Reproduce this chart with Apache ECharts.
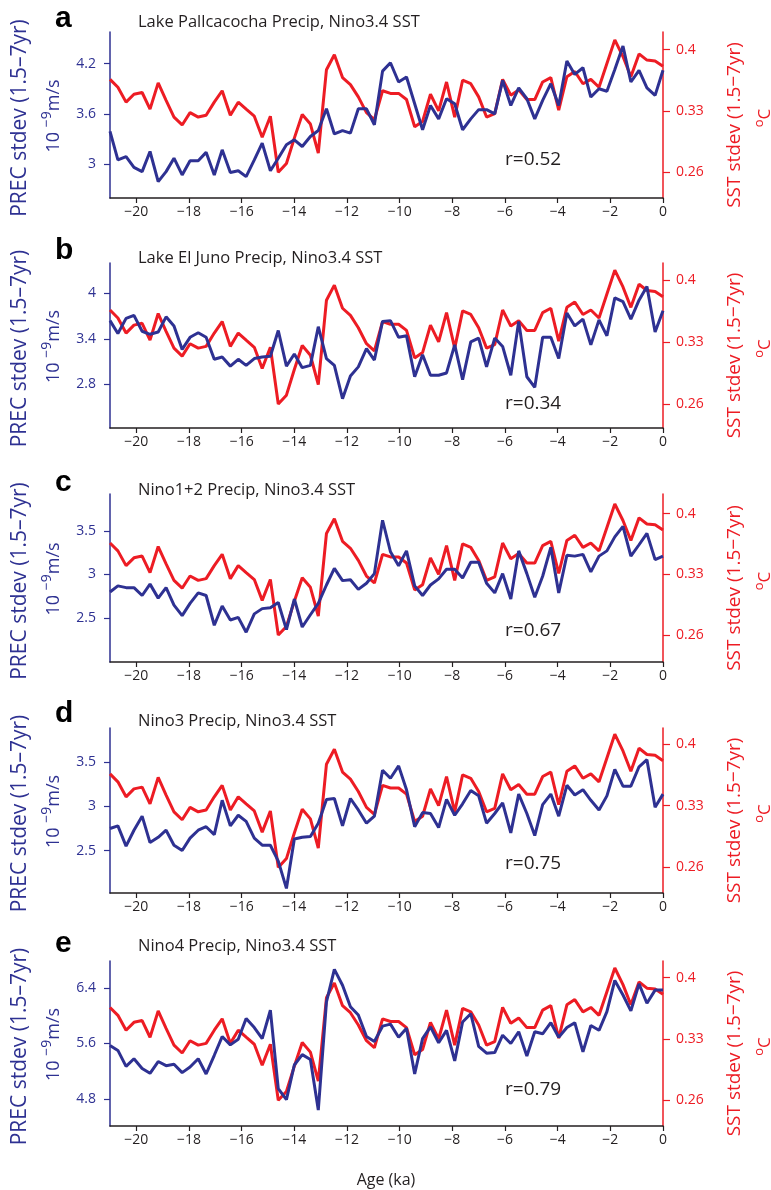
<!DOCTYPE html>
<html><head><meta charset="utf-8">
<script src="https://cdn.jsdelivr.net/npm/echarts@6/dist/echarts.min.js"></script>
<style>html,body{margin:0;padding:0;background:#fff}#c{width:771px;height:1190px}</style>
</head><body><div id="c"></div>
<script>
// ---------- data ----------
const ages = [-21.00,-20.70,-20.39,-20.09,-19.78,-19.48,-19.17,-18.87,-18.57,-18.26,
  -17.96,-17.65,-17.35,-17.04,-16.74,-16.43,-16.13,-15.83,-15.52,-15.22,
  -14.91,-14.61,-14.30,-14.00,-13.70,-13.39,-13.09,-12.78,-12.48,-12.17,
  -11.87,-11.57,-11.26,-10.96,-10.65,-10.35,-10.04,-9.74,-9.43,-9.13,
  -8.83,-8.52,-8.22,-7.91,-7.61,-7.30,-7.00,-6.70,-6.39,-6.09,
  -5.78,-5.48,-5.17,-4.87,-4.57,-4.26,-3.96,-3.65,-3.35,-3.04,
  -2.74,-2.43,-2.13,-1.83,-1.52,-1.22,-0.91,-0.61,-0.30,0.00];

const sstNino34 = [0.366,0.357,0.340,0.349,0.351,0.332,0.362,0.342,0.323,0.314,
  0.328,0.323,0.325,0.340,0.353,0.325,0.340,0.332,0.324,0.300,
  0.324,0.260,0.270,0.299,0.326,0.315,0.282,0.377,0.394,0.368,
  0.360,0.346,0.328,0.320,0.353,0.350,0.350,0.343,0.312,0.318,
  0.349,0.330,0.363,0.323,0.365,0.361,0.346,0.323,0.327,0.366,
  0.348,0.354,0.343,0.343,0.363,0.368,0.331,0.369,0.375,0.361,
  0.366,0.357,0.384,0.411,0.392,0.369,0.395,0.388,0.387,0.381];

const precPallcacocha = [3.39,3.05,3.09,2.96,2.91,3.15,2.79,2.91,3.07,2.87,
  3.04,3.04,3.14,2.87,3.17,2.90,2.92,2.85,3.05,3.25,
  2.92,3.07,3.23,3.29,3.21,3.33,3.40,3.66,3.36,3.40,
  3.37,3.66,3.66,3.47,4.11,4.21,3.98,4.04,3.72,3.41,
  3.70,3.54,3.78,3.72,3.41,3.54,3.65,3.65,3.60,4.00,
  3.70,3.91,3.78,3.54,3.76,3.96,3.70,4.23,4.07,4.15,
  3.80,3.90,3.87,4.13,4.41,3.98,4.12,3.91,3.82,4.12];

const precElJuno = [3.64,3.47,3.67,3.71,3.50,3.46,3.49,3.69,3.57,3.26,
  3.42,3.48,3.42,3.13,3.16,3.04,3.13,3.05,3.14,3.16,
  3.17,3.51,3.04,3.20,3.02,3.05,3.56,3.14,3.05,2.61,
  2.91,3.03,3.27,3.12,3.63,3.64,3.42,3.44,2.90,3.19,
  2.92,2.92,2.95,3.32,2.86,3.36,3.41,3.03,3.41,3.30,
  2.92,3.63,2.90,2.76,3.42,3.42,3.14,3.74,3.57,3.66,
  3.32,3.65,3.44,3.94,3.89,3.66,3.91,4.09,3.49,3.77];

const precNino12 = [2.80,2.87,2.85,2.85,2.76,2.89,2.73,2.85,2.65,2.53,
  2.67,2.79,2.76,2.42,2.64,2.48,2.51,2.34,2.55,2.61,
  2.62,2.68,2.37,2.72,2.40,2.54,2.67,2.88,3.07,2.93,
  2.94,2.83,2.90,3.01,3.62,3.26,3.10,3.27,2.87,2.76,
  2.88,2.95,3.06,3.06,2.96,3.14,3.14,2.90,2.79,3.01,
  2.72,3.27,3.01,2.74,2.98,3.31,2.79,3.22,3.21,3.23,
  3.03,3.21,3.27,3.43,3.55,3.21,3.34,3.47,3.17,3.21];

const precNino3 = [2.75,2.78,2.55,2.73,2.89,2.59,2.65,2.73,2.56,2.50,
  2.64,2.73,2.77,2.68,3.07,2.78,2.90,2.83,2.64,2.56,
  2.56,2.38,2.07,2.63,2.65,2.66,2.81,3.08,3.09,2.78,
  3.09,2.96,2.81,2.89,3.41,3.32,3.46,3.19,2.77,2.93,
  2.92,2.76,3.08,2.90,3.03,3.18,3.12,2.81,2.92,3.04,
  2.70,3.14,2.92,2.67,3.02,3.14,2.89,3.24,3.13,3.19,
  3.07,2.96,3.12,3.42,3.23,3.23,3.45,3.53,2.99,3.14];

const precNino4 = [5.57,5.50,5.27,5.38,5.24,5.17,5.34,5.28,5.30,5.18,
  5.26,5.38,5.16,5.43,5.70,5.58,5.66,5.96,5.83,5.67,
  6.08,4.95,4.79,5.29,5.44,5.37,4.64,6.20,6.67,6.44,
  6.13,6.01,5.70,5.63,5.85,5.88,5.69,5.82,5.16,5.67,
  5.84,5.61,5.79,5.35,5.91,6.03,5.56,5.46,5.47,5.72,
  5.60,5.77,5.42,5.77,5.74,5.90,5.69,5.83,5.90,5.48,
  5.86,5.79,6.06,6.51,6.30,6.07,6.46,6.18,6.37,6.37];

const precSeries = [precPallcacocha, precElJuno, precNino12, precNino3, precNino4];
const panelLetters = ['a','b','c','d','e'];
const panelTitles = ['Lake Pallcacocha Precip, Nino3.4 SST','Lake El Juno Precip, Nino3.4 SST',
  'Nino1+2 Precip, Nino3.4 SST','Nino3 Precip, Nino3.4 SST','Nino4 Precip, Nino3.4 SST'];
const corrLabels = ['r=0.52','r=0.34','r=0.67','r=0.75','r=0.79'];
const precTicks = [[3,3.6,4.2],[2.8,3.4,4],[2.5,3,3.5],[2.5,3,3.5],[4.8,5.6,6.4]];
const sstTicks = [0.26,0.33,0.4];
const ageTicks = [-20,-18,-16,-14,-12,-10,-8,-6,-4,-2,0];

// ---------- layout ----------
const BLUE = '#2e3192', RED = '#ed1c24', INK = '#231f20';
const FONT = '"Open Sans", "Noto Sans", sans-serif';
const L = 110, W = 553;
const panels = [
  {top:32,  bot:198,  lmin:2.595, lmax:4.577, rmin:0.2307, rmax:0.420, titleY:22,  letterY:21,  rY:160},
  {top:263, bot:428,  lmin:2.224, lmax:4.400, rmin:0.2330, rmax:0.419, titleY:258, letterY:253, rY:404},
  {top:494, bot:662,  lmin:2.000, lmax:3.920, rmin:0.2290, rmax:0.4225,titleY:490, letterY:485, rY:631},
  {top:728, bot:893,  lmin:2.018, lmax:3.890, rmin:0.2310, rmax:0.418, titleY:721, letterY:716, rY:864},
  {top:961, bot:1126, lmin:4.410, lmax:6.790, rmin:0.2307, rmax:0.419, titleY:946, letterY:946, rY:1090}
];
const minus = v => (v < 0 ? '\u2212' + (-v) : String(v));

const grid = [], xAxis = [], yAxis = [], series = [], graphic = [];
panels.forEach((p, i) => {
  grid.push({left: L, width: W, top: p.top, height: p.bot - p.top, containLabel: false});
  xAxis.push({type:'value', gridIndex:i, min:-21, max:0,
    axisLine:{show:true, onZero:false, lineStyle:{color:INK, width:1.5}},
    axisTick:{show:true, length:5, lineStyle:{color:INK, width:1.2}, customValues: ageTicks},
    axisLabel:{show:true, color:INK, fontSize:14, fontFamily:FONT, margin:7, customValues: ageTicks, formatter: minus},
    splitLine:{show:false}});
  yAxis.push({type:'value', gridIndex:i, position:'left', min:p.lmin, max:p.lmax,
    axisLine:{show:true, onZero:false, lineStyle:{color:BLUE, width:1.5}},
    axisTick:{show:true, inside:false, length:6, lineStyle:{color:BLUE, width:1.2}, customValues: precTicks[i]},
    axisLabel:{show:true, color:BLUE, fontSize:14, fontFamily:FONT, margin:14, customValues: precTicks[i], formatter: v => String(v)},
    splitLine:{show:false}});
  yAxis.push({type:'value', gridIndex:i, position:'right', min:p.rmin, max:p.rmax,
    axisLine:{show:true, onZero:false, lineStyle:{color:RED, width:1.5}},
    axisTick:{show:true, inside:false, length:7, lineStyle:{color:RED, width:1.2}, customValues: sstTicks},
    axisLabel:{show:true, color:RED, fontSize:14, fontFamily:FONT, margin:13, customValues: sstTicks, formatter: v => String(v)},
    splitLine:{show:false}});
  series.push({type:'line', xAxisIndex:i, yAxisIndex:2*i+1, data: ages.map((a,k)=>[a, sstNino34[k]]),
    showSymbol:false, lineStyle:{color:RED, width:3}, z:2, animation:false});
  series.push({type:'line', xAxisIndex:i, yAxisIndex:2*i, data: ages.map((a,k)=>[a, precSeries[i][k]]),
    showSymbol:false, lineStyle:{color:BLUE, width:3}, z:3, animation:false});

  const mid = (p.top + p.bot) / 2;
  graphic.push({type:'text', left:55, top:p.letterY-17, style:{text:panelLetters[i], font:'bold 30px "Liberation Sans", Arial, sans-serif', fill:'#000'}});
  graphic.push({type:'text', x:138, y:p.titleY, style:{text:panelTitles[i], font:'16.5px '+FONT, fill:INK, verticalAlign:'middle'}});
  graphic.push({type:'text', x:505, y:p.rY, style:{text:corrLabels[i], font:'19px '+FONT, fill:INK, verticalAlign:'middle'}});
  graphic.push({type:'text', x:20, y:mid+3, rotation:Math.PI/2, style:{text:'PREC stdev (1.5\u20137yr)', font:'21px '+FONT, fill:BLUE, align:'center', verticalAlign:'middle'}});
  graphic.push({type:'text', x:50, y:mid+1, rotation:Math.PI/2, style:{text:'{b|10 }{s|\u22129}{b|m/s}', align:'center', verticalAlign:'middle',
    rich:{b:{font:'18px '+FONT, fill:BLUE, verticalAlign:'bottom', lineHeight:26}, s:{font:'14px '+FONT, fill:BLUE, verticalAlign:'bottom', padding:[0,0,9,0], lineHeight:26}}}});
  graphic.push({type:'text', x:735, y:mid+10, rotation:Math.PI/2, style:{text:'SST stdev (1.5\u22127yr)', font:'19px '+FONT, fill:RED, align:'center', verticalAlign:'middle'}});
  graphic.push({type:'text', x:762, y:mid+3, rotation:Math.PI/2, style:{text:'{s|o}{b|C}', align:'center', verticalAlign:'middle',
    rich:{b:{font:'17px '+FONT, fill:RED, verticalAlign:'bottom', lineHeight:24}, s:{font:'13px '+FONT, fill:RED, verticalAlign:'bottom', padding:[0,0,8,0], lineHeight:24}}}});
});
graphic.push({type:'text', x:386, y:1180, style:{text:'Age (ka)', font:'16px '+FONT, fill:INK, align:'center', verticalAlign:'middle'}});

const chart = echarts.init(document.getElementById('c'), null, {renderer:'canvas'});
chart.setOption({animation:false, backgroundColor:'#fff', grid, xAxis, yAxis, series, graphic});
</script>
</body></html>
